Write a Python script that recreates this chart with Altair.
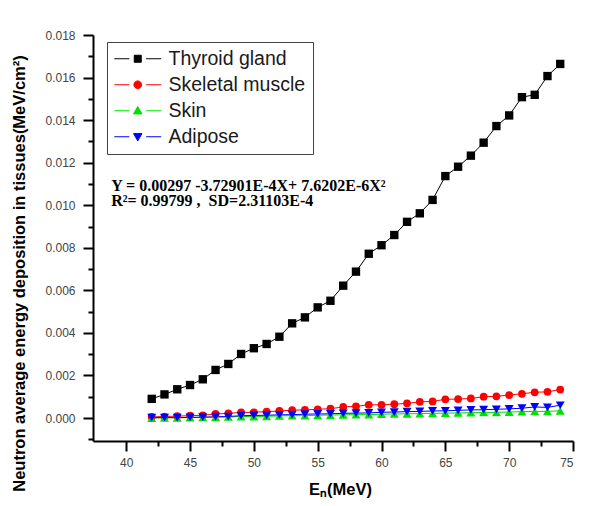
import altair as alt
import pandas as pd

energy = [42, 43, 44, 45, 46, 47, 48, 49, 50, 51, 52, 53, 54, 55, 56, 57, 58,
          59, 60, 61, 62, 63, 64, 65, 66, 67, 68, 69, 70, 71, 72, 73, 74]

thyroid = [0.00090, 0.00111, 0.00135, 0.00155, 0.00182, 0.00226, 0.00254, 0.00301,
           0.00328, 0.00348, 0.00382, 0.00445, 0.00473, 0.00520, 0.00551, 0.00622,
           0.00688, 0.00772, 0.00812, 0.00860, 0.00922, 0.00962, 0.01025, 0.01137,
           0.01181, 0.01233, 0.01294, 0.01372, 0.01422, 0.01508, 0.01519, 0.01607,
           0.01664]

muscle = [0.00005, 0.00007, 0.00009, 0.00011, 0.00013, 0.00019, 0.00022, 0.00026,
          0.00027, 0.00030, 0.00033, 0.00037, 0.00038, 0.00041, 0.00044, 0.00052,
          0.00055, 0.00062, 0.00062, 0.00065, 0.00069, 0.00076, 0.00078, 0.00088,
          0.00089, 0.00092, 0.00100, 0.00102, 0.00108, 0.00114, 0.00121, 0.00123,
          0.00134]

skin = [0.00000, 0.00001, 0.00001, 0.00002, 0.00003, 0.00004, 0.00005, 0.00007,
        0.00007, 0.00008, 0.00010, 0.00011, 0.00011, 0.00013, 0.00014, 0.00015,
        0.00016, 0.00016, 0.00018, 0.00019, 0.00020, 0.00021, 0.00022, 0.00023,
        0.00024, 0.00025, 0.00026, 0.00027, 0.00028, 0.00030, 0.00031, 0.00031,
        0.00034]

adipose = [0.00002, 0.00002, 0.00002, 0.00003, 0.00004, 0.00006, 0.00007, 0.00011,
           0.00012, 0.00013, 0.00015, 0.00016, 0.00018, 0.00019, 0.00020, 0.00022,
           0.00023, 0.00024, 0.00027, 0.00028, 0.00030, 0.00031, 0.00033, 0.00034,
           0.00036, 0.00038, 0.00039, 0.00041, 0.00043, 0.00046, 0.00052, 0.00050,
           0.00060]

series_names = ["Thyroid gland", "Skeletal muscle", "Skin", "Adipose"]
series_colors = ["#000000", "#ff0000", "#00e000", "#0000ff"]
series_shapes = ["square", "circle", "triangle-up", "triangle-down"]
series_sizes = [70, 60, 80, 80]

x_major = [40, 45, 50, 55, 60, 65, 70, 75]
x_minor = [42.5, 47.5, 52.5, 57.5, 62.5, 67.5, 72.5]
y_major = [0.000, 0.002, 0.004, 0.006, 0.008, 0.010, 0.012, 0.014, 0.016, 0.018]
y_minor = [-0.001, 0.001, 0.003, 0.005, 0.007, 0.009, 0.011, 0.013, 0.015, 0.017]

eq_lines = ["Y = 0.00297 -3.72901E-4X+ 7.6202E-6X\u00b2",
            "R\u00b2= 0.99799 ,\u00a0 SD=2.31103E-4"]
eq_x = [38.82, 38.82]
eq_y = [0.01068, 0.00995]

rows = []
for name, vals in zip(series_names, [thyroid, muscle, skin, adipose]):
    for e, v in zip(energy, vals):
        rows.append({"E": e, "value": v, "series": name})
df = pd.DataFrame(rows)
ann = pd.DataFrame({"ax": eq_x, "ay": eq_y, "txt": eq_lines})

x_scale = alt.Scale(domain=[37.4, 75], nice=False, zero=False)
y_scale = alt.Scale(domain=[-0.00108, 0.018], nice=False, zero=False)
color_scale = alt.Scale(domain=series_names, range=series_colors)

LINE_L = "M-6.7,0H-2.4M2.4,0H6.7"
paths = {
    "Thyroid gland": LINE_L + "M-1,-1H1V1H-1Z",
    "Skeletal muscle": LINE_L + "M-1.1,0A1.1,1.1,0,1,1,1.1,0A1.1,1.1,0,1,1,-1.1,0Z",
    "Skin": LINE_L + "M0,-1.2L1.2,0.9H-1.2Z",
    "Adipose": LINE_L + "M0,1.2L1.2,-0.9H-1.2Z",
}
shape_expr = " : ".join(
    [f"datum.value == '{k}' ? '{v}'" for k, v in paths.items()]) + " : 'circle'"

legend = alt.Legend(
    title=None, orient="none", legendX=14, legendY=7,
    strokeColor="#444444", fillColor="white", padding=7,
    labelFont="Liberation Sans", labelFontSize=19.5, labelColor="#1a1a1a",
    symbolSize=49, symbolOffset=14, labelOffset=21, rowPadding=5,
    symbolType={"expr": shape_expr},
    symbolStrokeColor={"expr": "scale('color', datum.value)"},
    symbolFillColor={"expr": "scale('color', datum.value)"},
    symbolStrokeWidth=1, symbolOpacity=1,
)

lines = alt.Chart(df).mark_line(strokeWidth=1).encode(
    x=alt.X("E:Q", scale=x_scale,
            axis=alt.Axis(values=x_major, title="E\u2099(MeV)", orient="bottom",
                          tickSize=10, labelPadding=6, titlePadding=13, titleX=247)),
    y=alt.Y("value:Q", scale=y_scale,
            axis=alt.Axis(values=y_major, format=".3f", orient="left", tickSize=10,
                          labelPadding=8,
                          title="Neutron average energy deposition in tissues(MeV/cm\u00b2)",
                          titleX=-66, titleY=238)),
    color=alt.Color("series:N", scale=color_scale, legend=legend),
    order=alt.Order("E:Q"),
)

layers = [lines]
for i, (name, shp, sz) in enumerate(zip(series_names, series_shapes, series_sizes)):
    if i == 0:
        xa = alt.Axis(values=x_minor, labels=False, title=None, domain=False,
                      tickSize=5, orient="bottom")
        ya = alt.Axis(values=y_minor, labels=False, title=None, domain=False,
                      tickSize=5, orient="left")
    else:
        xa = None
        ya = None
    pts = alt.Chart(df).transform_filter(
        alt.datum.series == name
    ).mark_point(filled=True, opacity=1, shape=shp, size=sz).encode(
        x=alt.X("E:Q", scale=x_scale, axis=xa),
        y=alt.Y("value:Q", scale=y_scale, axis=ya),
        color=alt.Color("series:N", scale=color_scale, legend=legend),
    )
    layers.append(pts)

text = alt.Chart(ann).mark_text(
    align="left", baseline="alphabetic", font="Liberation Serif",
    fontWeight="bold", fontSize=16, color="black",
).encode(
    x=alt.X("ax:Q", scale=x_scale, axis=None),
    y=alt.Y("ay:Q", scale=y_scale, axis=None),
    text="txt:N",
)
layers.append(text)

chart = alt.layer(*layers).resolve_axis(
    x="independent", y="independent"
).properties(
    width=480, height=406,
    autosize=alt.AutoSizeParams(type="none"),
    padding={"left": 85, "top": 27, "right": 10, "bottom": 60},
).configure_view(stroke=None).configure_axis(
    domainColor="black", domainWidth=2, tickColor="black", tickWidth=2,
    grid=False, labelFont="Liberation Sans", labelFontSize=12, labelColor="#444444",
    titleFont="Liberation Sans", titleFontWeight="bold", titleFontSize=16.5,
    titleColor="black",
)

chart.save("out.html", embed_options={"renderer": "svg", "actions": False})
